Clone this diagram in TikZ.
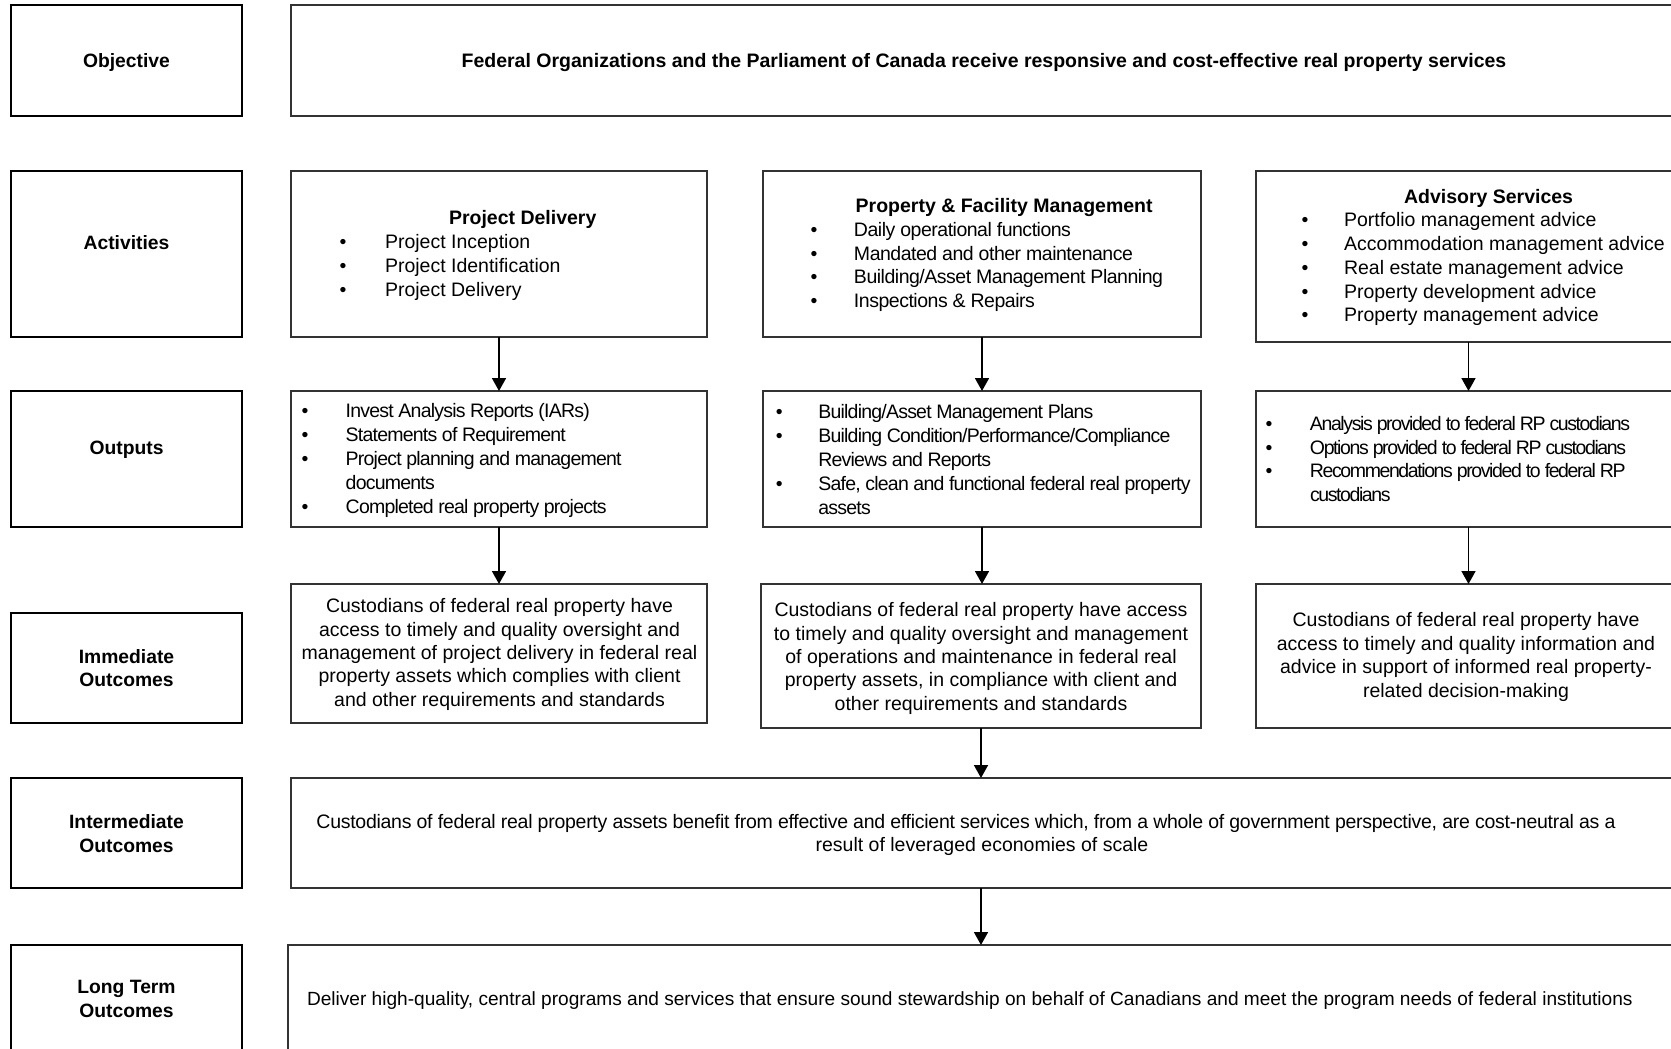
\documentclass[tikz,border=0pt]{standalone}
\usepackage{fontspec}
\setmainfont{Liberation Sans}
\newfontfamily\lsA{Liberation Sans}[LetterSpace=-4]
\newfontfamily\lsB{Liberation Sans}[LetterSpace=-7.2]
\newfontfamily\lsC{Liberation Sans}[LetterSpace=-1.4]
\newfontfamily\lsD{Liberation Sans}[LetterSpace=-2.5]
\usetikzlibrary{arrows.meta}
\newcommand\bul[2]{\llap{\makebox[#1pt][l]{\textbullet}}#2}
\begin{document}
\begin{tikzpicture}[x=1pt,y=-1pt,
  every node/.style={inner sep=0pt,outer sep=0pt},
  lbox/.style={draw=black,line width=1.9pt,rectangle},
  cbox/.style={draw=black!80,line width=1.3pt,rectangle},
  arr/.style={line width=1.7pt,-{Triangle[width=14pt,length=13pt]}},
  txt/.style={font=\fontsize{19.5}{23.7}\selectfont},
  lab/.style={font=\fontsize{19.3}{23.5}\selectfont\bfseries,align=center},
]
\useasboundingbox (0,0) rectangle (1671,1049);
\newcommand\bx[6]{\node[#2,anchor=north west,minimum width={#5-#3},minimum height={#6-#4}] (#1) at (#3,#4) {};}
% label boxes
\bx{lab1}{lbox}{11}{5}{242}{116}
\bx{lab2}{lbox}{11}{171}{242}{337}
\bx{lab3}{lbox}{11}{391}{242}{527}
\bx{lab4}{lbox}{11}{613}{242}{723}
\bx{lab5}{lbox}{11}{778}{242}{888}
\bx{lab6}{lbox}{11}{945}{242}{1075}
% content boxes
\bx{obj}{cbox}{291}{5}{1685}{116}
\bx{actPD}{cbox}{291}{171}{707}{337}
\bx{actPF}{cbox}{763}{171}{1201}{337}
\bx{actAD}{cbox}{1256}{171}{1685}{342}
\bx{outPD}{cbox}{291}{391}{707}{527}
\bx{outPF}{cbox}{763}{391}{1201}{527}
\bx{outAD}{cbox}{1256}{391}{1685}{527}
\bx{immPD}{cbox}{291}{584}{707}{723}
\bx{immPF}{cbox}{761}{584}{1201}{728}
\bx{immAD}{cbox}{1256}{584}{1685}{728}
\bx{inter}{cbox}{291}{778}{1685}{888}
\bx{long}{cbox}{288}{945}{1685}{1075}
% labels
\node[lab] (t1) at (126.5,62.5) {Objective};
\node[lab] (t2) at (126.5,242.5) {Activities};
\node[lab] (t3) at (126.5,450) {Outputs};
\node[lab] (t4) at (126.5,668) {Immediate\\Outcomes};
\node[lab] (t5) at (126.5,833.5) {Intermediate\\Outcomes};
\node[lab] (t6) at (126.5,999) {Long Term\\Outcomes};
% objective
\node[font=\fontsize{19.5}{23.5}\selectfont\bfseries] (tobj) at (984,63) {Federal Organizations and the Parliament of Canada receive responsive and cost-effective real property services};
% activities
\node[txt,align=left,anchor=west] (tactPD) at (385,255.5) {\hspace*{64pt}\textbf{Project Delivery}\\
\bul{45.4}{Project Inception}\\
\bul{45.4}{Project Identification}\\
\bul{45.4}{Project Delivery}};
\node[font=\fontsize{19.5}{23.7}\lsD,align=left,anchor=west] (tactPF) at (854,255) {\hspace*{1.7pt}{\normalfont\bfseries Property \& Facility Management}\\
\bul{43.4}{Daily operational functions}\\
\bul{43.4}{Mandated and other maintenance}\\
\bul{43.4}{Building/Asset Management Planning}\\
\bul{43.4}{Inspections \& Repairs}};
\node[txt,align=left,anchor=west] (tactAD) at (1344,257.5) {\hspace*{60pt}\textbf{Advisory Services}\\
\bul{42.4}{Portfolio management advice}\\
\bul{42.4}{Accommodation management advice}\\
\bul{42.4}{Real estate management advice}\\
\bul{42.4}{Property development advice}\\
\bul{42.4}{Property management advice}};
% outputs
\node[font=\fontsize{19.5}{23.9}\lsA,align=left,anchor=west] (toutPD) at (345.7,460.5) {\bul{44}{Invest Analysis Reports (IARs)}\\
\bul{44}{Statements of Requirement}\\
\bul{44}{Project planning and management}\\
documents\\
\bul{44}{Completed real property projects}};
\node[font=\fontsize{19.5}{23.9}\lsA,align=left,anchor=west] (toutPF) at (818.3,459.5) {\bul{42.4}{Building/Asset Management Plans}\\
\bul{42.4}{Building Condition/Performance/Compliance}\\
Reviews and Reports\\
\bul{42.4}{Safe, clean and functional federal real property}\\
assets};
\node[font=\fontsize{19.5}{23.9}\lsB,align=left,anchor=west] (toutAD) at (1310,459) {\bul{44.4}{Analysis provided to federal RP custodians}\\
\bul{44.4}{Options provided to federal RP custodians}\\
\bul{44.4}{Recommendations provided to federal RP}\\
custodians};
% immediate outcomes
\node[font=\fontsize{19.5}{23.4}\selectfont,align=center] (timmPD) at (499.5,654.5) {Custodians of federal real property have\\
access to timely and quality oversight and\\
management of project delivery in federal real\\
property assets which complies with client\\
and other requirements and standards};
\node[font=\fontsize{19.5}{23.4}\selectfont,align=center] (timmPF) at (981,658.5) {Custodians of federal real property have access\\
to timely and quality oversight and management\\
of operations and maintenance in federal real\\
property assets, in compliance with client and\\
other requirements and standards};
\node[font=\fontsize{19.5}{23.4}\selectfont,align=center] (timmAD) at (1466,657) {Custodians of federal real property have\\
access to timely and quality information and\\
advice in support of informed real property-\\
related decision-making};
% intermediate
\node[txt,align=center] (tinter) at (982,835) {\lsC Custodians of federal real property assets benefit from effective and efficient services which, from a whole of government perspective, are cost-neutral as a\hspace*{32pt}\\
result of leveraged economies of scale};
% long term
\node[font=\fontsize{19.1}{23.5}\selectfont,anchor=west] (tlong) at (307,1001) {Deliver high-quality, central programs and services that ensure sound stewardship on behalf of Canadians and meet the program needs of federal institutions};
% arrows
\draw[arr] (actPD.south) -- (outPD.north);
\draw[arr] (outPD.south) -- (immPD.north);
\draw[arr] (actPF.south) -- (outPF.north);
\draw[arr] (outPF.south) -- (outPF.south |- immPF.north);
\draw[arr] ([xshift=-2pt]actAD.south) -- ([xshift=-2pt]outAD.north);
\draw[arr] ([xshift=-2pt]outAD.south) -- ([xshift=-2pt]immAD.north);
\draw[arr] (immPF.south) -- (immPF.south |- inter.north);
\draw[arr] (inter.south -| immPF.south) -- (long.north -| immPF.south);
\end{tikzpicture}
\end{document}
